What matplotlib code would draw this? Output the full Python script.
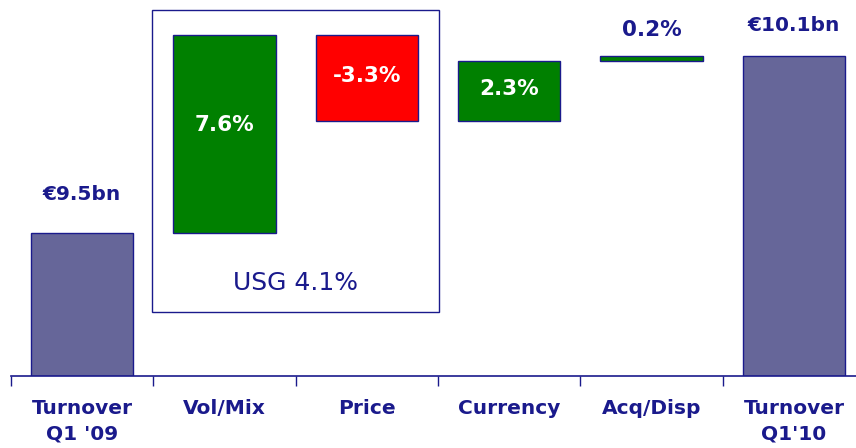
import matplotlib.pyplot as plt
from matplotlib.patches import Rectangle

# data
categories = ["Turnover\nQ1 '09", "Vol/Mix", "Price", "Currency", "Acq/Disp", "Turnover\nQ1'10"]
start_level = 5.5          # visual height of the opening bar (axis is truncated)
steps = [7.6, -3.3, 2.3, 0.2]
step_labels = ["7.6%", "-3.3%", "2.3%", "0.2%"]
totals_labels = ["€9.5bn", "€10.1bn"]
usg_label = "USG 4.1%"

navy = "#1a1a8c"
total_color = "#666699"
up_color = "#008000"
down_color = "#ff0000"

fig = plt.figure(figsize=(8.56, 4.48), dpi=100)
# axis spans 6 slots of ~142.4 px, starting at x=10.8 px, baseline at y=376 px
ax = fig.add_axes([10.8 / 856, 72 / 448, 854.4 / 856, 376 / 448])
ax.set_xlim(0, 6)
ax.set_ylim(0, 376 / 26.05)

width = 0.72
x = [i + 0.5 for i in range(6)]

# opening bar
ax.bar(x[0], start_level, width, color=total_color, edgecolor=navy, linewidth=1)

# steps
level = start_level
bottoms = []
for i, s in enumerate(steps):
    bottom = level if s >= 0 else level + s
    color = up_color if s >= 0 else down_color
    ax.bar(x[i + 1], abs(s), width, bottom=bottom, color=color, edgecolor=navy, linewidth=1)
    bottoms.append(bottom)
    level += s

# closing bar
ax.bar(x[5], level, width, color=total_color, edgecolor=navy, linewidth=1)

# value labels
ax.text(x[0], start_level + 1.45, totals_labels[0], ha="center", va="center",
        color=navy, fontsize=14.5, fontweight="bold")
ax.text(x[5], level + 1.15, totals_labels[1], ha="center", va="center",
        color=navy, fontsize=14.5, fontweight="bold")
for i, s in enumerate(steps):
    if abs(s) > 1:
        ax.text(x[i + 1], bottoms[i] + abs(s) / 2 + (0.35 if i == 0 else 0.05), step_labels[i],
                ha="center", va="center", color="white", fontsize=15.5, fontweight="bold")
    else:
        ax.text(x[i + 1], bottoms[i] + abs(s) + 1.0, step_labels[i], ha="center", va="center",
                color=navy, fontsize=15.5, fontweight="bold")

# USG box around Vol/Mix and Price
ax.add_patch(Rectangle((0.995, (376 - 312) / 26.05), 2.01, (312 - 10) / 26.05,
                       fill=False, edgecolor=navy, linewidth=1, clip_on=False))
ax.text(2.0, (376 - 283) / 26.05, usg_label, ha="center", va="center",
        color=navy, fontsize=18)

# axes styling
for side in ["top", "right", "left"]:
    ax.spines[side].set_visible(False)
ax.spines["bottom"].set_color(navy)
ax.spines["bottom"].set_linewidth(1.2)
ax.set_yticks([])
ax.set_xticks(range(7))
ax.set_xticklabels([])
ax.tick_params(axis="x", direction="out", length=7, color=navy, width=1)
ax.set_xticks(x, minor=True)
ax.set_xticklabels(categories, minor=True, color=navy, fontsize=14.5,
                   fontweight="bold", linespacing=1.45)
ax.tick_params(axis="x", which="minor", length=0, pad=16.5)

fig.savefig("out.png", dpi=100)
